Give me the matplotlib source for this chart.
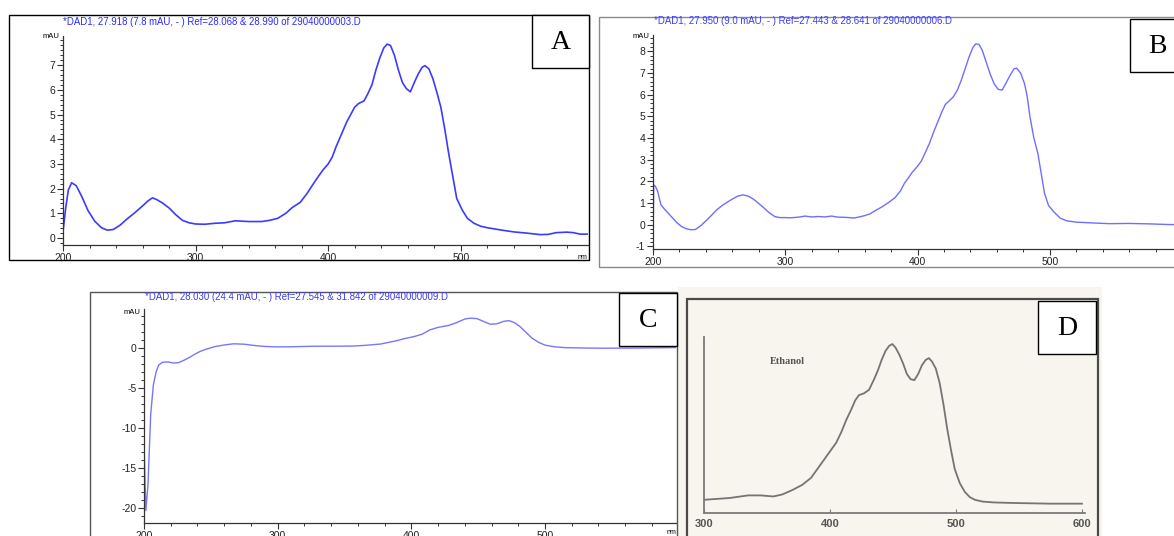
import numpy as np
import matplotlib
matplotlib.use("Agg")
import matplotlib.pyplot as plt
from matplotlib.patches import Rectangle
from matplotlib.ticker import MultipleLocator

W, H = 1174, 536

#--- Data ------------------------------------------------------------------

nm_a = [200, 202, 204, 206.5, 210, 214, 219, 224, 229, 233.5, 238, 243, 248, 254,
        260, 264, 267.5, 271, 275, 280, 285, 290, 295, 300, 307, 315, 322, 330,
        340, 350, 356, 362, 368, 373, 379, 384, 388, 392, 396, 400, 403, 406, 410,
        414, 417, 420, 423, 427, 430, 433, 436, 439, 442, 444.5, 447, 450, 453,
        456, 459, 462, 465, 468, 471, 473, 476, 479, 482, 485, 488, 491, 494, 497,
        501, 505, 510, 515, 520, 530, 540, 550, 560, 566, 572, 580, 585, 590, 596]
mau_a = [0.26, 1.2, 1.94, 2.24, 2.12, 1.7, 1.1, 0.68, 0.42, 0.32, 0.35, 0.52, 0.76, 1.02,
         1.3, 1.5, 1.63, 1.55, 1.42, 1.22, 0.95, 0.72, 0.62, 0.57, 0.56, 0.6, 0.62, 0.7,
         0.67, 0.67, 0.72, 0.8, 1.0, 1.24, 1.45, 1.8, 2.13, 2.45, 2.75, 3.0, 3.27, 3.7, 4.2,
         4.7, 5.0, 5.3, 5.45, 5.55, 5.85, 6.2, 6.8, 7.3, 7.7, 7.85, 7.8, 7.4, 6.8,
         6.3, 6.05, 5.92, 6.3, 6.65, 6.92, 6.98, 6.85, 6.45, 5.9, 5.3, 4.4, 3.4, 2.5, 1.6,
         1.15, 0.8, 0.6, 0.48, 0.42, 0.33, 0.25, 0.2, 0.14, 0.15, 0.22, 0.24, 0.22, 0.16, 0.16]

nm_b = [200, 200.5, 202, 203.5, 206, 209, 212, 215, 218, 221.5, 225, 228.5, 232, 236,
        240, 244, 248, 253, 259, 264, 268, 272, 276, 280, 284, 288, 292, 296, 300,
        304, 310, 315, 320, 325, 330, 335, 340, 346, 352, 356, 360, 364, 368, 373,
        378, 383, 387, 390, 393, 396, 400, 403, 406, 409, 412, 415, 418, 421, 424,
        427, 430, 433, 436, 439, 442, 444, 446.5, 449, 452, 455, 458, 461, 464, 467,
        470, 473, 475, 478, 481, 483, 485, 488, 491, 494, 496, 499, 503, 508, 513,
        520, 530, 545, 560, 575, 590, 600]
mau_b = [-1.0, 1.85, 1.75, 1.55, 0.92, 0.7, 0.5, 0.3, 0.1, -0.08, -0.18, -0.23, -0.22, -0.05,
         0.18, 0.42, 0.68, 0.92, 1.15, 1.32, 1.38, 1.32, 1.18, 0.98, 0.77, 0.55, 0.38, 0.33, 0.33,
         0.32, 0.35, 0.4, 0.36, 0.38, 0.36, 0.4, 0.35, 0.34, 0.31, 0.36, 0.42, 0.5, 0.65, 0.82,
         1.02, 1.25, 1.55, 1.9, 2.15, 2.42, 2.7, 2.95, 3.35, 3.75, 4.25, 4.7, 5.15, 5.55, 5.72,
         5.9, 6.2, 6.65, 7.2, 7.75, 8.2, 8.35, 8.33, 8.05, 7.5, 6.95, 6.5, 6.25, 6.22, 6.55,
         6.9, 7.2, 7.23, 7.0, 6.5, 5.9, 5.0, 4.0, 3.3, 2.2, 1.46, 0.9, 0.6, 0.3, 0.18,
         0.12, 0.09, 0.05, 0.06, 0.04, 0.01, 0.0]

nm_c = [200, 201.4, 203, 205, 207, 209, 211, 214, 218, 222, 226, 230, 234, 238, 242,
        247, 253, 260, 267, 275, 282, 290, 299, 310, 320, 330, 345, 356, 365, 377,
        388, 395, 402, 408, 414, 420, 428, 434, 440, 444, 449, 454, 459, 464, 469,
        473, 477, 481, 486, 490, 495, 500, 507, 515, 530, 545, 570, 598]
mau_c = [-12, -20.3, -17, -8.3, -4.6, -3.0, -2.1, -1.75, -1.72, -1.85, -1.8, -1.5, -1.15, -0.75, -0.4,
         -0.1, 0.2, 0.4, 0.55, 0.5, 0.35, 0.22, 0.17, 0.18, 0.22, 0.25, 0.25, 0.27, 0.35, 0.52,
         0.9, 1.2, 1.45, 1.75, 2.3, 2.6, 2.85, 3.2, 3.65, 3.75, 3.7, 3.35, 3.0, 3.05, 3.35,
         3.45, 3.2, 2.75, 1.95, 1.3, 0.75, 0.38, 0.18, 0.07, 0.02, 0.0, 0.02, 0.08]

nm_d = [300, 320, 335, 345, 355, 362, 370, 378, 385, 391, 396, 401, 405, 409, 413, 417,
        420, 423, 427, 431, 435, 438, 441, 444, 447, 449.5, 452, 455, 458, 461, 464,
        467, 470, 473, 476, 478.5, 481, 484, 487, 490, 493, 496, 499, 503, 507, 511,
        515, 521, 530, 545, 560, 575, 590, 600]
abs_d = [0.075, 0.085, 0.10, 0.10, 0.094, 0.105, 0.13, 0.16, 0.2, 0.26, 0.31, 0.36, 0.40, 0.46, 0.53, 0.59,
         0.64, 0.67, 0.68, 0.70, 0.76, 0.81, 0.87, 0.92, 0.95, 0.96, 0.94, 0.90, 0.85, 0.79, 0.76,
         0.755, 0.79, 0.84, 0.87, 0.88, 0.86, 0.82, 0.74, 0.62, 0.48, 0.36, 0.25, 0.17, 0.12, 0.09,
         0.075, 0.065, 0.06, 0.057, 0.055, 0.053, 0.053, 0.053]

title_a = "*DAD1, 27.918 (7.8 mAU, - ) Ref=28.068 & 28.990 of 29040000003.D"
title_b = "*DAD1, 27.950 (9.0 mAU, - ) Ref=27.443 & 28.641 of 29040000006.D"
title_c = "*DAD1, 28.030 (24.4 mAU, - ) Ref=27.545 & 31.842 of 29040000009.D"

#--- Helpers ---------------------------------------------------------------

plt.rcParams['font.family'] = ['Liberation Sans', 'DejaVu Sans']
plt.rcParams['axes.unicode_minus'] = False
fig = plt.figure(figsize=(W / 100, H / 100), dpi=100)
fig.patch.set_facecolor('white')


def px_axes(x0, y0, x1, y1):
    ax = fig.add_axes([x0 / W, 1 - y1 / H, (x1 - x0) / W, (y1 - y0) / H])
    ax.set_facecolor('none')
    return ax


def px_rect(x0, y0, x1, y1, **kw):
    r = Rectangle((x0 / W, 1 - y1 / H), (x1 - x0) / W, (y1 - y0) / H,
                  transform=fig.transFigure, **kw)
    fig.add_artist(r)
    return r


def px_text(x, y, s, **kw):
    return fig.text(x / W, 1 - y / H, s, **kw)


def chem_style(ax, ymajor, yminor):
    for s in ['top', 'right']:
        ax.spines[s].set_visible(False)
    for s in ['left', 'bottom']:
        ax.spines[s].set_color('#333333')
        ax.spines[s].set_linewidth(0.9)
    ax.xaxis.set_major_locator(MultipleLocator(100))
    ax.xaxis.set_minor_locator(MultipleLocator(20))
    ax.yaxis.set_major_locator(MultipleLocator(ymajor))
    ax.yaxis.set_minor_locator(MultipleLocator(yminor))
    ax.tick_params(which='major', direction='out', length=4, width=0.8,
                   color='#333333', labelsize=7.5, labelcolor='#222222', pad=1.5)
    ax.tick_params(which='minor', direction='out', length=2.5, width=0.7, color='#333333')


def label_box(x0, y0, x1, y1, letter):
    px_rect(x0, y0, x1, y1, facecolor='white', edgecolor='black', linewidth=1.0, zorder=5)
    px_text((x0 + x1) / 2, (y0 + y1) / 2 + 1, letter, family='Liberation Serif',
            fontsize=20, ha='center', va='center', zorder=6)


#--- Panel A ---------------------------------------------------------------

px_rect(9, 15, 589, 260, fill=False, edgecolor='black', linewidth=1.0)
axA = px_axes(63, 36, 588, 245)
axA.plot(nm_a, mau_a, color='#3b3bff', linewidth=1.2)
axA.set_xlim(200, 596)
axA.set_ylim(-0.28, 8.18)
chem_style(axA, 1, 0.2)
axA.set_yticks(range(0, 8))
px_text(63, 22, title_a, color='#2a2aff', fontsize=6.9, va='center')
px_text(59, 36, 'mAU', fontsize=5.5, ha='right', va='center')
px_text(587, 257, 'nm', fontsize=5, ha='right', va='center')
label_box(532, 15, 589, 68, 'A')

#--- Panel B ---------------------------------------------------------------

px_rect(599, 17, 1200, 267, fill=False, edgecolor='#8a8a8a', linewidth=1.0)
axB = px_axes(653, 35, 1182, 249)
axB.plot(nm_b, mau_b, color='#6e6eff', linewidth=1.0)
axB.set_xlim(200, 600)
axB.set_ylim(-1.12, 8.76)
chem_style(axB, 1, 0.2)
axB.set_yticks(range(-1, 9))
px_text(654, 21, title_b, color='#3a3aff', fontsize=6.9, va='center')
px_text(649, 37, 'mAU', fontsize=5.5, ha='right', va='center')
label_box(1130, 19, 1185, 72, 'B')

#--- Panel C ---------------------------------------------------------------

px_rect(90, 292, 677, 560, fill=False, edgecolor='#555555', linewidth=1.0)
axC = px_axes(144, 309, 676, 523)
axC.plot(nm_c, mau_c, color='#7676ff', linewidth=1.0)
axC.set_xlim(200, 598)
axC.set_ylim(-21.85, 4.9)
chem_style(axC, 5, 1)
axC.set_yticks([-20, -15, -10, -5, 0])
px_text(145, 297, title_c, color='#3a3aff', fontsize=6.9, va='center')
px_text(140, 313, 'mAU', fontsize=5.5, ha='right', va='center')
px_text(676, 533, 'nm', fontsize=5, ha='right', va='center')
label_box(619, 293, 677, 346, 'C')

#--- Panel D (scanned literature spectrum) ---------------------------------

px_rect(678, 287, 1102, 560, facecolor='#f7f5ee', edgecolor='none', zorder=-1)
px_rect(687, 299, 1098, 560, fill=False, edgecolor='#4a4a4a', linewidth=1.6)
axD = px_axes(704, 337, 1085, 513)
axD.plot(nm_d, abs_d, color='#747474', linewidth=1.3)
axD.set_xlim(300, 602.4)
axD.set_ylim(0, 1)
for s in ['top', 'right']:
    axD.spines[s].set_visible(False)
for s in ['left', 'bottom']:
    axD.spines[s].set_color('#7a7a7a')
    axD.spines[s].set_linewidth(1.3)
axD.set_yticks([])
axD.set_xticks([300, 400, 500, 600])
axD.tick_params(axis='x', direction='in', length=3, color='#7a7a7a', labelsize=8,
                labelcolor='#555555', pad=4)
for t in axD.get_xticklabels():
    t.set_fontweight('bold')
px_text(770, 362, 'Ethanol', family='Liberation Serif', fontsize=7.5, fontweight='bold',
        color='#555555', va='center')
label_box(1038, 301, 1096, 354, 'D')

fig.savefig('out.png', dpi=100)
